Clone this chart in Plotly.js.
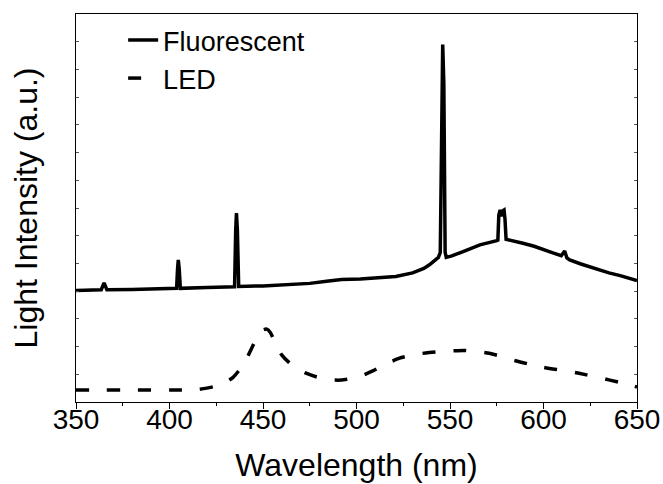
<!DOCTYPE html>
<html>
<head>
<meta charset="utf-8">
<script src="https://cdn.plot.ly/plotly-3.0.1.min.js"></script>
<style>html,body{margin:0;padding:0;background:#fff;}#chart{width:663px;height:484px;}</style>
</head>
<body>
<div id="chart"></div>
<script>
// Fluorescent lamp spectrum (wavelength nm, intensity a.u.)
const fluorWavelength = [350,360,363.5,365,366.5,380,395,403.8,404.3,404.7,405.2,405.8,420,
  434.8,435.4,435.8,436.3,437,450,466,475,484,492,502,512,521,530,536,539,542,543.8,
  544.8,545.5,546.1,546.7,547.4,548,551,557,566,575,575.6,576.1,576.8,577.6,578.2,578.9,579.4,580.0,
  584,589,595,600,605,609.5,611.3,612.5,614,620,628.5,635,641,650];
const fluorIntensity = [4.02,4.04,4.05,4.3,4.05,4.06,4.08,4.1,4.8,5.13,4.8,4.1,4.13,
  4.16,6.2,6.82,6.2,4.17,4.19,4.23,4.28,4.36,4.42,4.44,4.48,4.53,4.66,4.82,4.95,5.1,5.22,
  5.4,11.5,12.9,11.5,5.4,5.22,5.27,5.43,5.67,5.82,5.84,6.75,6.93,6.7,6.9,6.93,6.6,5.87,
  5.82,5.73,5.62,5.49,5.38,5.28,5.45,5.2,5.13,4.98,4.79,4.66,4.56,4.38];

// LED spectrum
const ledWavelength = [350,360,380,400,415,420,425,430,434,440,444,447,450,452,454,457,460,464,468,473,
  480,489,495,502,509,516,523,530,537,545,552,558,565,571,578,585,592,600,607,615,623,631,640,648,650];
const ledIntensity = [0.43,0.43,0.43,0.43,0.45,0.5,0.58,0.72,0.89,1.4,1.95,2.35,2.6,2.63,2.5,2.05,1.7,1.42,1.22,1.04,
  0.88,0.79,0.82,0.93,1.13,1.38,1.58,1.7,1.77,1.82,1.85,1.86,1.82,1.76,1.63,1.49,1.37,1.25,1.17,1.09,0.98,0.86,0.72,0.58,0.54];

const seriesNames = ["Fluorescent", "LED"];
const xTickVals = [350,400,450,500,550,600,650];
const xTickText = ["350","400","450","500","550","600","650"];

const FONT = "Liberation Sans, Arial, Helvetica, sans-serif";

const traces = [
  {x: fluorWavelength, y: fluorIntensity, type: "scatter", mode: "lines", name: seriesNames[0],
   line: {color: "#000", width: 3.5}},
  {x: ledWavelength, y: ledIntensity, type: "scatter", mode: "lines", name: seriesNames[1],
   line: {color: "#000", width: 3.5, dash: "13px,18px", shape: "spline", smoothing: 0.6}}
];

const layout = {
  width: 663, height: 484,
  margin: {l: 76, r: 26, t: 14, b: 82},
  paper_bgcolor: "#fff", plot_bgcolor: "#fff",
  font: {family: FONT, color: "#000"},
  showlegend: true,
  legend: {x: 0.084, xanchor: "left", y: 0.995, yanchor: "top", bgcolor: "rgba(0,0,0,0)",
           font: {family: FONT, size: 27, color: "#000"}, tracegroupgap: 0},
  xaxis: {
    range: [350, 650], showgrid: false, zeroline: false,
    showline: true, linecolor: "#000", linewidth: 1, mirror: true,
    tickmode: "array", tickvals: xTickVals, ticktext: xTickText,
    ticks: "outside", ticklen: 6, tickcolor: "#000", tickwidth: 1,
    minor: {dtick: 25, tick0: 350, ticks: "outside", ticklen: 3, tickcolor: "#000", tickwidth: 1, showgrid: false},
    tickfont: {family: FONT, size: 28, color: "#000"},
    ticklabelstandoff: -14,
    title: {text: "Wavelength (nm)", font: {family: FONT, size: 32, color: "#000"}, standoff: 20},
    automargin: false
  },
  yaxis: {
    range: [0, 14], showgrid: false, zeroline: false,
    showline: true, linecolor: "#000", linewidth: 1, mirror: "allticks",
    tickmode: "linear", tick0: 0, dtick: 1, ticks: "inside", ticklen: 3,
    tickcolor: "#555", tickwidth: 1, showticklabels: false,
    title: {text: "Light Intensity (a.u.)", font: {family: FONT, size: 32, color: "#000"}, standoff: 27},
    automargin: false
  }
};

Plotly.newPlot("chart", traces, layout, {displayModeBar: false, staticPlot: true});
</script>
</body>
</html>
